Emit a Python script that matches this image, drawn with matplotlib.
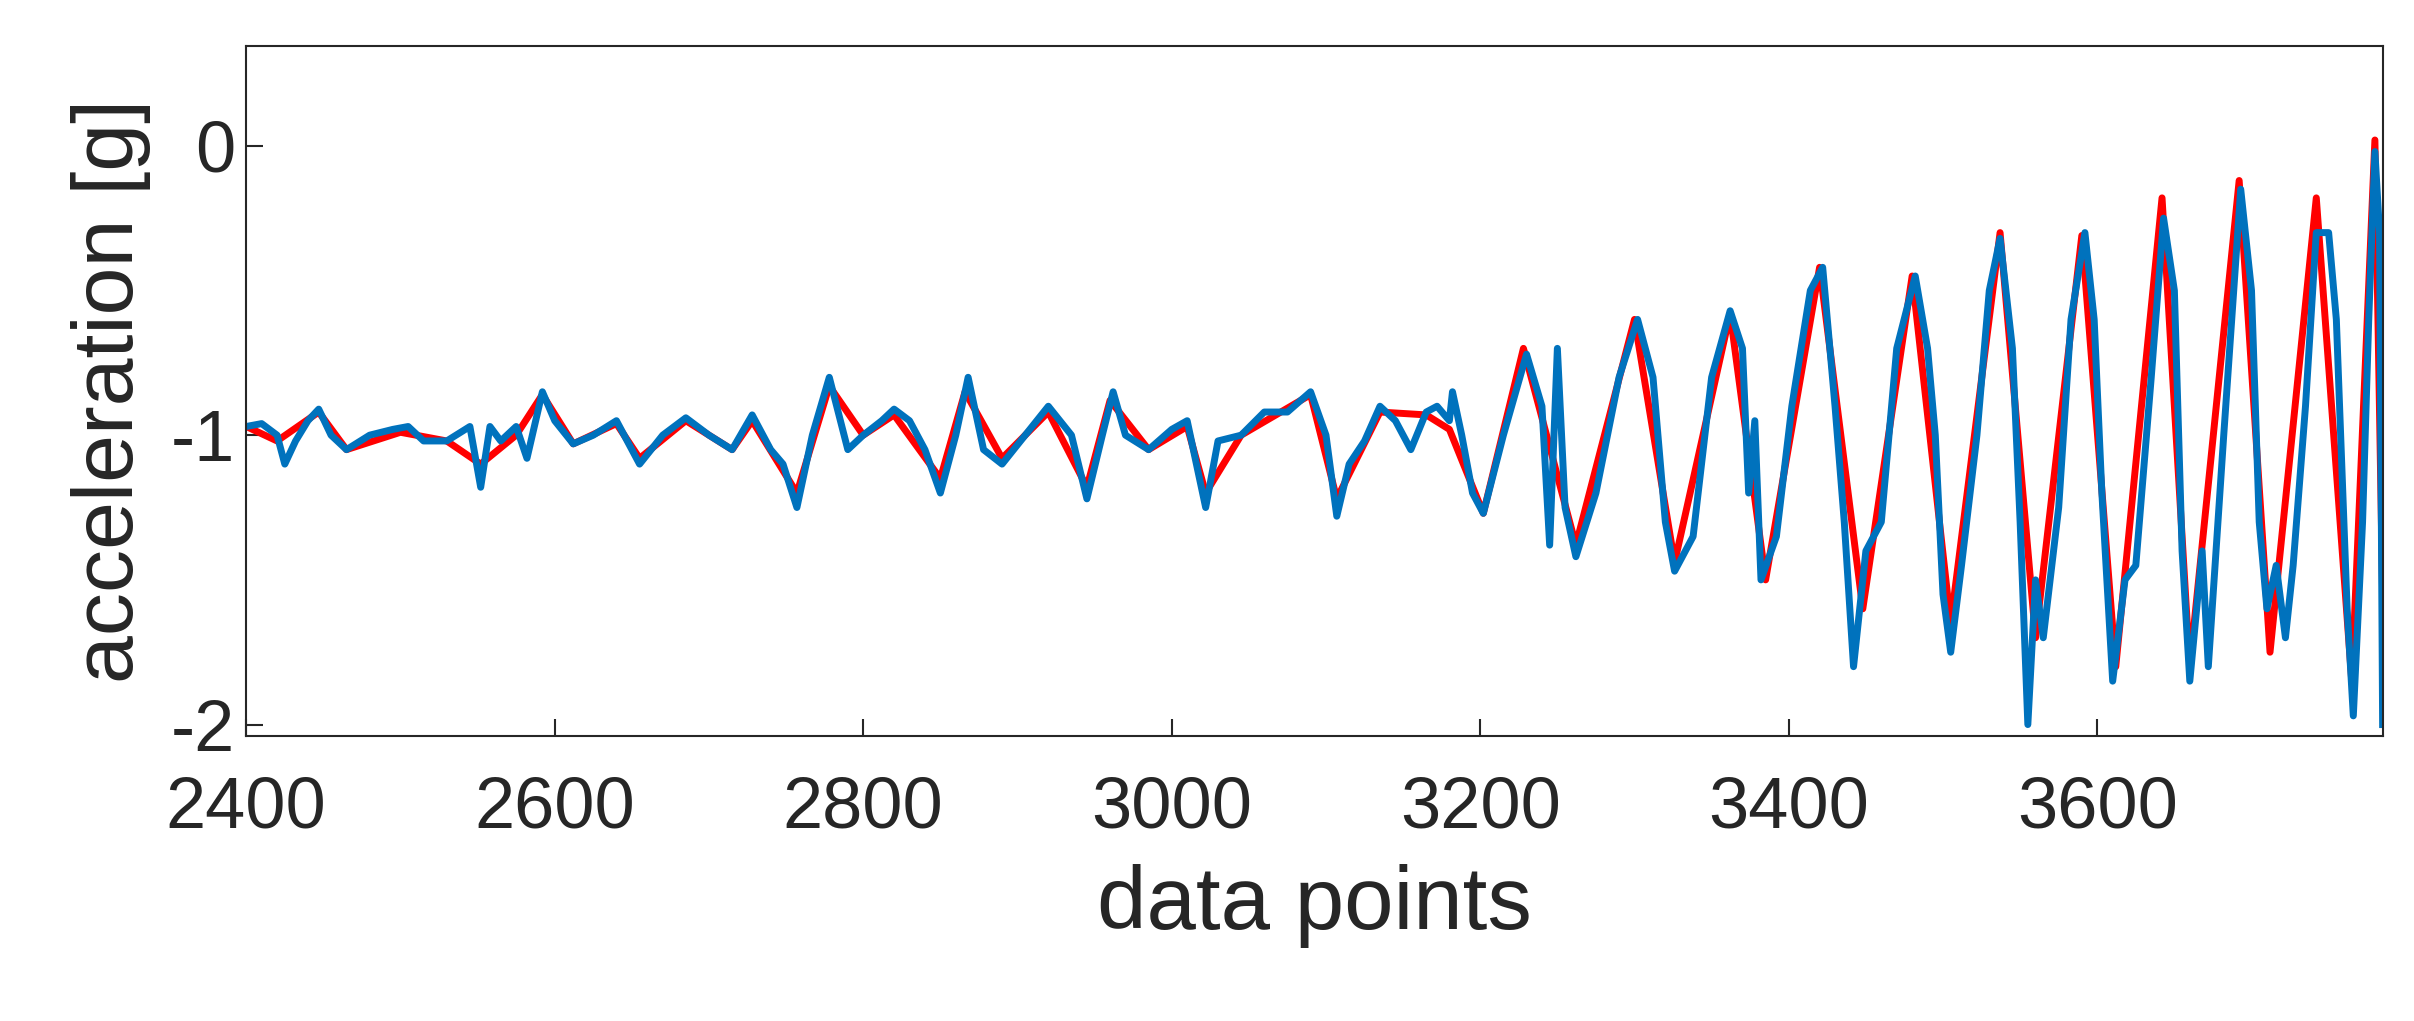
import matplotlib
matplotlib.use("Agg")
import matplotlib.pyplot as plt

blue_x = [2400,2410,2420,2425,2432,2440,2447,2455,2465,2480,2495,2505,2515,2530,2545,2552,2558,2565,2575,2582,2592,2600,2612,2625,2640,2655,2670,2685,2700,2715,2728,2740,2748,2757,2767,2778,2790,2800,2812,2820,2830,2840,2850,2860,2868,2878,2890,2905,2920,2935,2945,2955,2962,2970,2985,3000,3010,3022,3030,3045,3060,3075,3090,3100,3107,3115,3125,3135,3145,3155,3165,3172,3180,3182,3188,3195,3202,3215,3230,3240,3245,3250,3255,3262,3275,3290,3302,3312,3320,3326,3338,3350,3362,3370,3374,3378,3382,3392,3402,3414,3422,3430,3436,3442,3450,3460,3470,3482,3490,3495,3500,3505,3512,3522,3530,3537,3545,3550,3555,3560,3565,3575,3583,3592,3598,3603,3610,3618,3625,3635,3643,3650,3655,3660,3668,3672,3682,3693,3700,3705,3710,3716,3722,3727,3735,3742,3750,3755,3762,3766,3772,3776,3780,3783,3785]
blue_y = [-0.97,-0.96,-1.0,-1.1,-1.02,-0.95,-0.91,-1.0,-1.05,-1.0,-0.98,-0.97,-1.02,-1.02,-0.97,-1.18,-0.97,-1.02,-0.97,-1.08,-0.85,-0.95,-1.03,-1.0,-0.95,-1.1,-1.0,-0.94,-1.0,-1.05,-0.93,-1.05,-1.1,-1.25,-1.0,-0.8,-1.05,-1.0,-0.95,-0.91,-0.95,-1.05,-1.2,-1.0,-0.8,-1.05,-1.1,-1.0,-0.9,-1.0,-1.22,-1.0,-0.85,-1.0,-1.05,-0.98,-0.95,-1.25,-1.02,-1.0,-0.92,-0.92,-0.85,-1.0,-1.28,-1.1,-1.02,-0.9,-0.95,-1.05,-0.92,-0.9,-0.95,-0.85,-1.0,-1.2,-1.27,-1.0,-0.72,-0.9,-1.38,-0.7,-1.25,-1.42,-1.2,-0.8,-0.6,-0.8,-1.3,-1.47,-1.35,-0.8,-0.57,-0.7,-1.2,-0.95,-1.5,-1.35,-0.9,-0.5,-0.42,-0.9,-1.3,-1.8,-1.4,-1.3,-0.7,-0.45,-0.7,-1.0,-1.55,-1.75,-1.45,-1.0,-0.5,-0.32,-0.7,-1.3,-2.0,-1.5,-1.7,-1.25,-0.6,-0.3,-0.6,-1.2,-1.85,-1.5,-1.45,-0.8,-0.25,-0.5,-1.4,-1.85,-1.4,-1.8,-1.0,-0.15,-0.5,-1.3,-1.6,-1.45,-1.7,-1.45,-0.9,-0.3,-0.3,-0.6,-1.6,-1.97,-1.3,-0.6,-0.02,-0.3,-2.0]

red_x = [2400,2420,2447,2465,2500,2530,2552,2575,2592,2612,2640,2655,2685,2715,2728,2757,2778,2800,2820,2850,2866,2890,2920,2945,2960,2985,3010,3022,3045,3090,3107,3135,3165,3180,3202,3228,3262,3300,3326,3362,3385,3420,3448,3480,3505,3537,3560,3590,3612,3642,3660,3692,3712,3742,3765,3780,3785]
red_y = [-0.97,-1.02,-0.92,-1.05,-0.99,-1.02,-1.1,-1.0,-0.86,-1.03,-0.96,-1.08,-0.95,-1.05,-0.95,-1.2,-0.83,-1.0,-0.93,-1.15,-0.85,-1.08,-0.92,-1.18,-0.88,-1.05,-0.97,-1.2,-1.0,-0.86,-1.22,-0.92,-0.93,-0.98,-1.27,-0.7,-1.38,-0.6,-1.44,-0.58,-1.5,-0.42,-1.6,-0.45,-1.65,-0.3,-1.7,-0.31,-1.8,-0.18,-1.8,-0.12,-1.75,-0.18,-1.85,0.02,-1.55]

plt.rcParams['font.family'] = ['Liberation Sans', 'DejaVu Sans']
plt.rcParams['axes.unicode_minus'] = False
fig = plt.figure(figsize=(24.14, 10.21), dpi=100)
ax = fig.add_axes([0.102, 0.279, 0.885, 0.676])
ax.plot(red_x, red_y, color='#ff0000', lw=5, solid_joinstyle='round')
ax.plot(blue_x, blue_y, color='#0072bd', lw=5, solid_joinstyle='round')
ax.set_xlim(2400, 3785)
ax.set_ylim(-2.04, 0.345)
ax.set_xticks([2400, 2600, 2800, 3000, 3200, 3400, 3600])
ax.set_yticks([-2, -1, 0])
ax.tick_params(direction='in', length=12, width=1.5, labelsize=52, colors='#262626')
ax.tick_params(axis='x', pad=28)
ax.tick_params(axis='y', pad=8)
for s in ax.spines.values():
    s.set_linewidth(1.5); s.set_color('#262626')
ax.set_xlabel('data points', fontsize=64, color='#262626', labelpad=16)
ax.set_ylabel('acceleration [g]', fontsize=62, color='#262626', labelpad=14)
fig.savefig('out.png', dpi=100)
